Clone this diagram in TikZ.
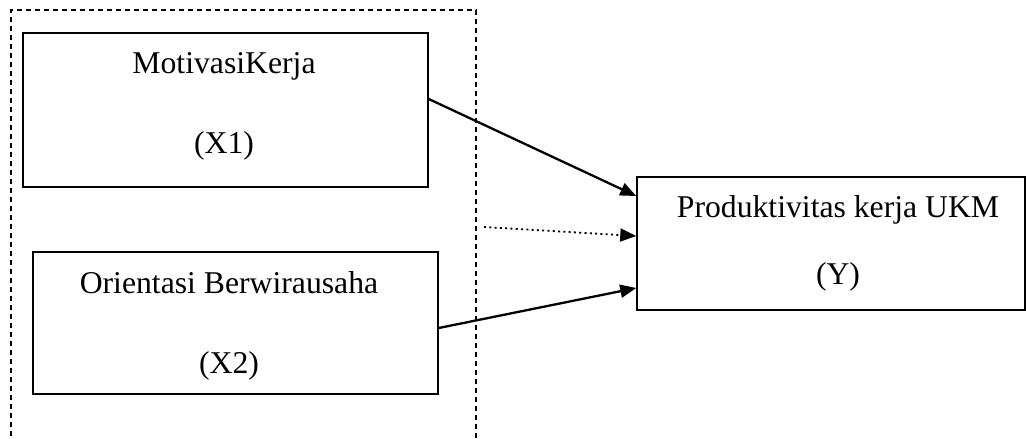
\documentclass[tikz,border=0pt]{standalone}
\usepackage{fontspec}
\setmainfont{Liberation Serif}
\usetikzlibrary{arrows.meta,calc}

\tikzset{
  varbox/.style={draw, line width=1.5pt, rectangle, inner sep=0pt},
  lbl/.style={anchor=base, inner sep=0pt, font=\fontsize{31.7}{38}\selectfont},
  link/.style={line width=2.3pt, -{Triangle[length=16pt,width=13pt]}},
  weaklink/.style={line width=1.8pt, dash pattern=on 2pt off 3.3pt, -{Triangle[length=16pt,width=13pt]}},
  groupframe/.style={line width=1.5pt, dash pattern=on 5pt off 4pt}
}

\begin{document}
\begin{tikzpicture}[x=1pt, y=-1pt]
  \useasboundingbox (0,0) rectangle (1026,439);

  % independent variables group
  \draw[groupframe] (11,445) -- (11,10) -- (476,10) -- (476,445);

  % variable boxes
  \node[varbox, minimum width=405pt, minimum height=154pt] (x1) at (225.5,110) {};
  \node[varbox, minimum width=405pt, minimum height=142pt] (x2) at (235.5,323) {};
  \node[varbox, minimum width=388pt, minimum height=133pt] (y) at (831,243.5) {};

  % labels
  \node[lbl] (x1name) at (224,73) {MotivasiKerja};
  \node[lbl] (x1code) at (224,153) {(X1)};
  \node[lbl] (x2name) at (229,293) {Orientasi Berwirausaha};
  \node[lbl] (x2code) at (229,373) {(X2)};
  \node[lbl] (yname) at (838,217) {Produktivitas kerja UKM};
  \node[lbl] (ycode) at (838,284) {(Y)};

  % effects
  \coordinate (joint) at (484,227);
  \draw[link] ($(x1.east)+(0,-11)$) -- ($(y.west)+(0,-47.5)$);
  \draw[weaklink] (joint) -- ($(y.west)+(0,-7.5)$);
  \draw[link] ($(x2.east)+(0,5)$) -- ($(y.west)+(0,44.5)$);
\end{tikzpicture}
\end{document}
